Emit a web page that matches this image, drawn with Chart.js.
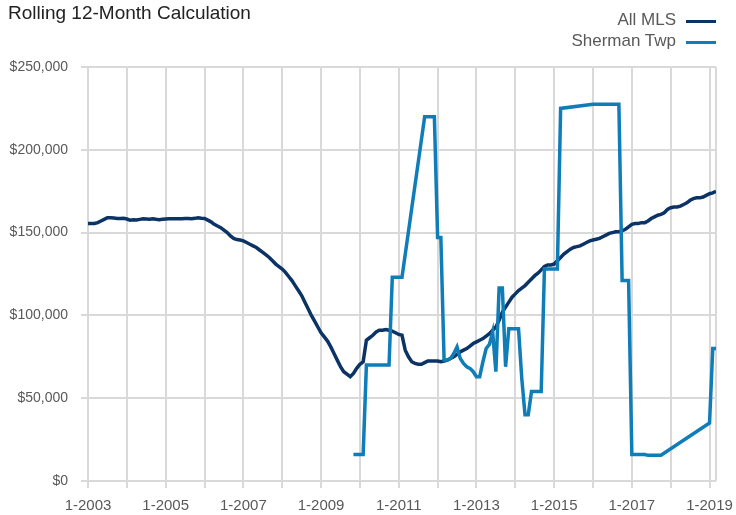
<!DOCTYPE html>
<html lang="en">
<head>
  <meta charset="UTF-8" />
  <title>Rolling 12-Month Calculation</title>
  <script src="https://cdn.jsdelivr.net/npm/chart.js"></script>
  <style>
    body { margin: 0; background: #fff; font-family: 'Liberation Sans', Arial, sans-serif; }
    #wrap { position: relative; width: 736px; height: 515px; }
    #title { position: absolute; left: 8px; top: 3px; font-size: 19px; line-height: 19px; color: #222; }
    .key { position: absolute; right: 20px; font-size: 17px; line-height: 17px; color: #595959; display: flex; align-items: center; }
    .key i { display: inline-block; width: 30px; height: 3px; margin-left: 10px; position: relative; top: 2px; }
  </style>
</head>
<body>
  <div id="wrap">
    <canvas id="chart" width="736" height="515"></canvas>
    <div id="title">Rolling 12-Month Calculation</div>
    <div class="key" style="top:11px">All MLS<i style="background:#0c3366"></i></div>
    <div class="key" style="top:32px">Sherman Twp<i style="background:#0f7db8"></i></div>
  </div>

  <script>
    // monthly, Jan 2003 .. Mar 2019, values in $ thousands
    const xTickLabels = ['1-2003', '1-2005', '1-2007', '1-2009', '1-2011', '1-2013', '1-2015', '1-2017', '1-2019'];

    const allMls = [
      155.5, 155.5, 155.5, 156, 157, 158, 159, 159, 158.8, 158.5, 158.5, 158.6,      // 2003
      158.2, 157.5, 157.8, 157.6, 158, 158.3, 158.2, 158, 158.3, 158, 157.8, 158,    // 2004
      158.2, 158.4, 158.4, 158.3, 158.3, 158.4, 158.5, 158.5, 158.4, 158.6, 159, 158.7, // 2005
      158.5, 157.5, 156.5, 155, 154, 153, 151.5, 150, 148, 146.5, 145.8, 145.5,      // 2006
      145, 144, 143, 142, 141, 139.5, 138, 136.5, 135, 133, 131, 129.5,              // 2007
      128, 126, 123.5, 121, 118, 115, 112, 108, 104, 100, 96.5, 93,                  // 2008
      89.5, 87, 84.5, 81, 77, 73, 69, 66, 64.5, 63, 65, 68,                          // 2009
      70.5, 72, 85, 86.5, 88, 90, 91, 91, 91.5, 91, 90.5, 89.5,                      // 2010
      88.5, 88, 79, 75, 72, 71, 70.5, 70.5, 71.5, 72.5, 72.5, 72.5,                  // 2011
      72.5, 72, 72.5, 73, 74, 75, 76.5, 78, 79, 80, 81.5, 83,                        // 2012
      84, 85, 86, 87.5, 89, 91, 93, 97, 102, 105, 108, 111,                          // 2013
      113, 115, 116.5, 118, 120, 122, 124, 125.5, 127.5, 129.5, 130.5, 130.5,        // 2014
      131, 133, 135, 137, 138.5, 140, 141, 141.5, 142, 143, 144, 145,                // 2015
      145.5, 146, 146.5, 147.5, 148.5, 149.5, 150, 150.5, 150.5, 151, 152, 153.5,    // 2016
      155, 155.5, 155.5, 156, 156, 157, 158.5, 159.5, 160.5, 161, 162, 164,          // 2017
      165, 165.5, 165.5, 166, 167, 168, 169.5, 170.5, 171, 171, 171.5, 172.5,        // 2018
      173.5, 174, 175                                                                // 2019
    ];

    // Sherman Twp starts Nov 2009 (month index 82); null = no sales that month
    const shermanStart = 82;
    const sherman = [
      16, 16, 16, 16,
      70, 70, 70, 70, 70, 70, 70, 70,
      123, 123, 123, 123,
      null, null, null, null, null, null,
      220, 220, 220, 220,
      147, 147,
      73, 73, 74, 77, 81, 74, 71, 69, 68, 66, 63, 63,
      72, 80, 82.5, 90, 66, 116.5, 116.5, 69, 92, 92, 92, 92,
      62, 40, 40, 54, 54, 54, 54, 128, 128, 128, 128, 128,
      225,
      null, null, null, null, null, null, null, null, null,
      227.5, 227.5, 227.5, 227.5, 227.5, 227.5, 227.5, 227.5, 227.5,
      121, 121, 121,
      16, 16, 16, 16, 16, 15.5, 15.5, 15.5, 15.5, 15.5,
      null, null, null, null, null, null, null, null, null, null, null, null, null, null,
      35,
      80, 80
    ];

    const lastMonth = allMls.length - 1;
    const gridColor = '#d9d9d9';

    new Chart(document.getElementById('chart'), {
      type: 'line',
      data: {
        datasets: [
          {
            label: 'All MLS',
            data: allMls.map((v, i) => ({ x: i, y: v })),
            borderColor: '#0c3366',
            borderWidth: 3.5,
            pointRadius: 0,
            order: 2
          },
          {
            label: 'Sherman Twp',
            data: sherman.map((v, i) => ({ x: shermanStart + i, y: v })),
            borderColor: '#0f7db8',
            borderWidth: 3.5,
            pointRadius: 0,
            spanGaps: true,
            order: 1
          }
        ]
      },
      options: {
        responsive: false,
        animation: false,
        layout: { padding: { top: 67, right: 20, left: 0, bottom: 0 } },
        plugins: { legend: { display: false }, tooltip: { enabled: false } },
        scales: {
          x: {
            type: 'linear',
            min: 0,
            max: lastMonth,
            afterFit: s => { s.height = 34; },
            afterBuildTicks: s => {
              const t = [];
              for (let m = 0; m <= lastMonth; m += 12) t.push({ value: m });
              t.push({ value: lastMonth });
              s.ticks = t;
            },
            grid: {
              color: gridColor,
              lineWidth: 2,
              tickLength: 7,
              tickColor: c => (c.tick && c.tick.value % 12 === 0) ? gridColor : 'rgba(0,0,0,0)'
            },
            border: { display: false },
            ticks: {
              autoSkip: false,
              maxRotation: 0,
              padding: 9,
              color: '#595959',
              font: { size: 15 },
              callback: v => v % 24 === 0 ? xTickLabels[v / 24] : ''
            }
          },
          y: {
            min: 0,
            max: 250,
            afterFit: s => { s.width = 88; },
            grid: { color: gridColor, lineWidth: 2, tickLength: 7 },
            border: { display: false },
            ticks: {
              stepSize: 50,
              padding: 13,
              color: '#595959',
              font: { size: 14 },
              callback: v => '$' + (v * 1000).toLocaleString('en-US')
            }
          }
        }
      }
    });
  </script>
</body>
</html>
